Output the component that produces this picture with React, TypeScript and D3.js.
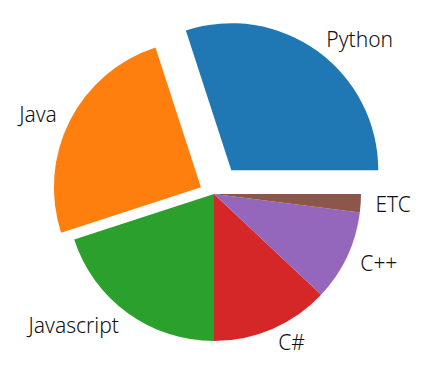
import React from "react";
import * as d3 from "d3";

const categories = ["Python", "Java", "Javascript", "C#", "C++", "ETC"];
const values = [30, 25, 20, 13, 10, 2];
const explode = [0.2, 0.1, 0, 0, 0, 0];
const colors = ["#1f77b4", "#ff7f0e", "#2ca02c", "#d62728", "#9467bd", "#8c564b"];

const W = 425;
const H = 389;
const CX = 214;
const CY = 194;
const R = 147;

export default function App() {
  const total = d3.sum(values);
  const toRad = (deg: number) => (deg * Math.PI) / 180;
  const angleScale = d3.scaleLinear().domain([0, total]).range([0, 360]);
  const arc = d3.arc<any>().innerRadius(0).outerRadius(R);
  let cum = 0;
  const items = values.map((v, i) => {
    const t1 = angleScale(cum);
    const t2 = angleScale(cum + v);
    cum += v;
    const mid = toRad((t1 + t2) / 2);
    const off = explode[i] * R;
    const dx = Math.cos(mid) * off;
    const dy = -Math.sin(mid) * off;
    const path = arc({ startAngle: toRad(90 - t2), endAngle: toRad(90 - t1) }) as string;
    const lr = 1.1 * R + off;
    const lx = CX + Math.cos(mid) * lr;
    const ly = CY - Math.sin(mid) * lr;
    return { path, dx, dy, lx, ly, anchor: Math.cos(mid) >= 0 ? "start" : "end", label: categories[i], color: colors[i] };
  });
  return (
    <svg width={W} height={H} style={{ position: "absolute", left: 0, top: 0, background: "#fff" }}>
      {items.map((d, i) => (
        <path key={i} d={d.path} fill={d.color} transform={`translate(${CX + d.dx},${CY + d.dy})`} />
      ))}
      {items.map((d, i) => (
        <text key={"t" + i} x={d.lx} y={d.ly} textAnchor={d.anchor} dominantBaseline="central"
          fontFamily="'Noto Sans', sans-serif" fontWeight={300} fontSize={21} fill="#111">
          {d.label}
        </text>
      ))}
    </svg>
  );
}
